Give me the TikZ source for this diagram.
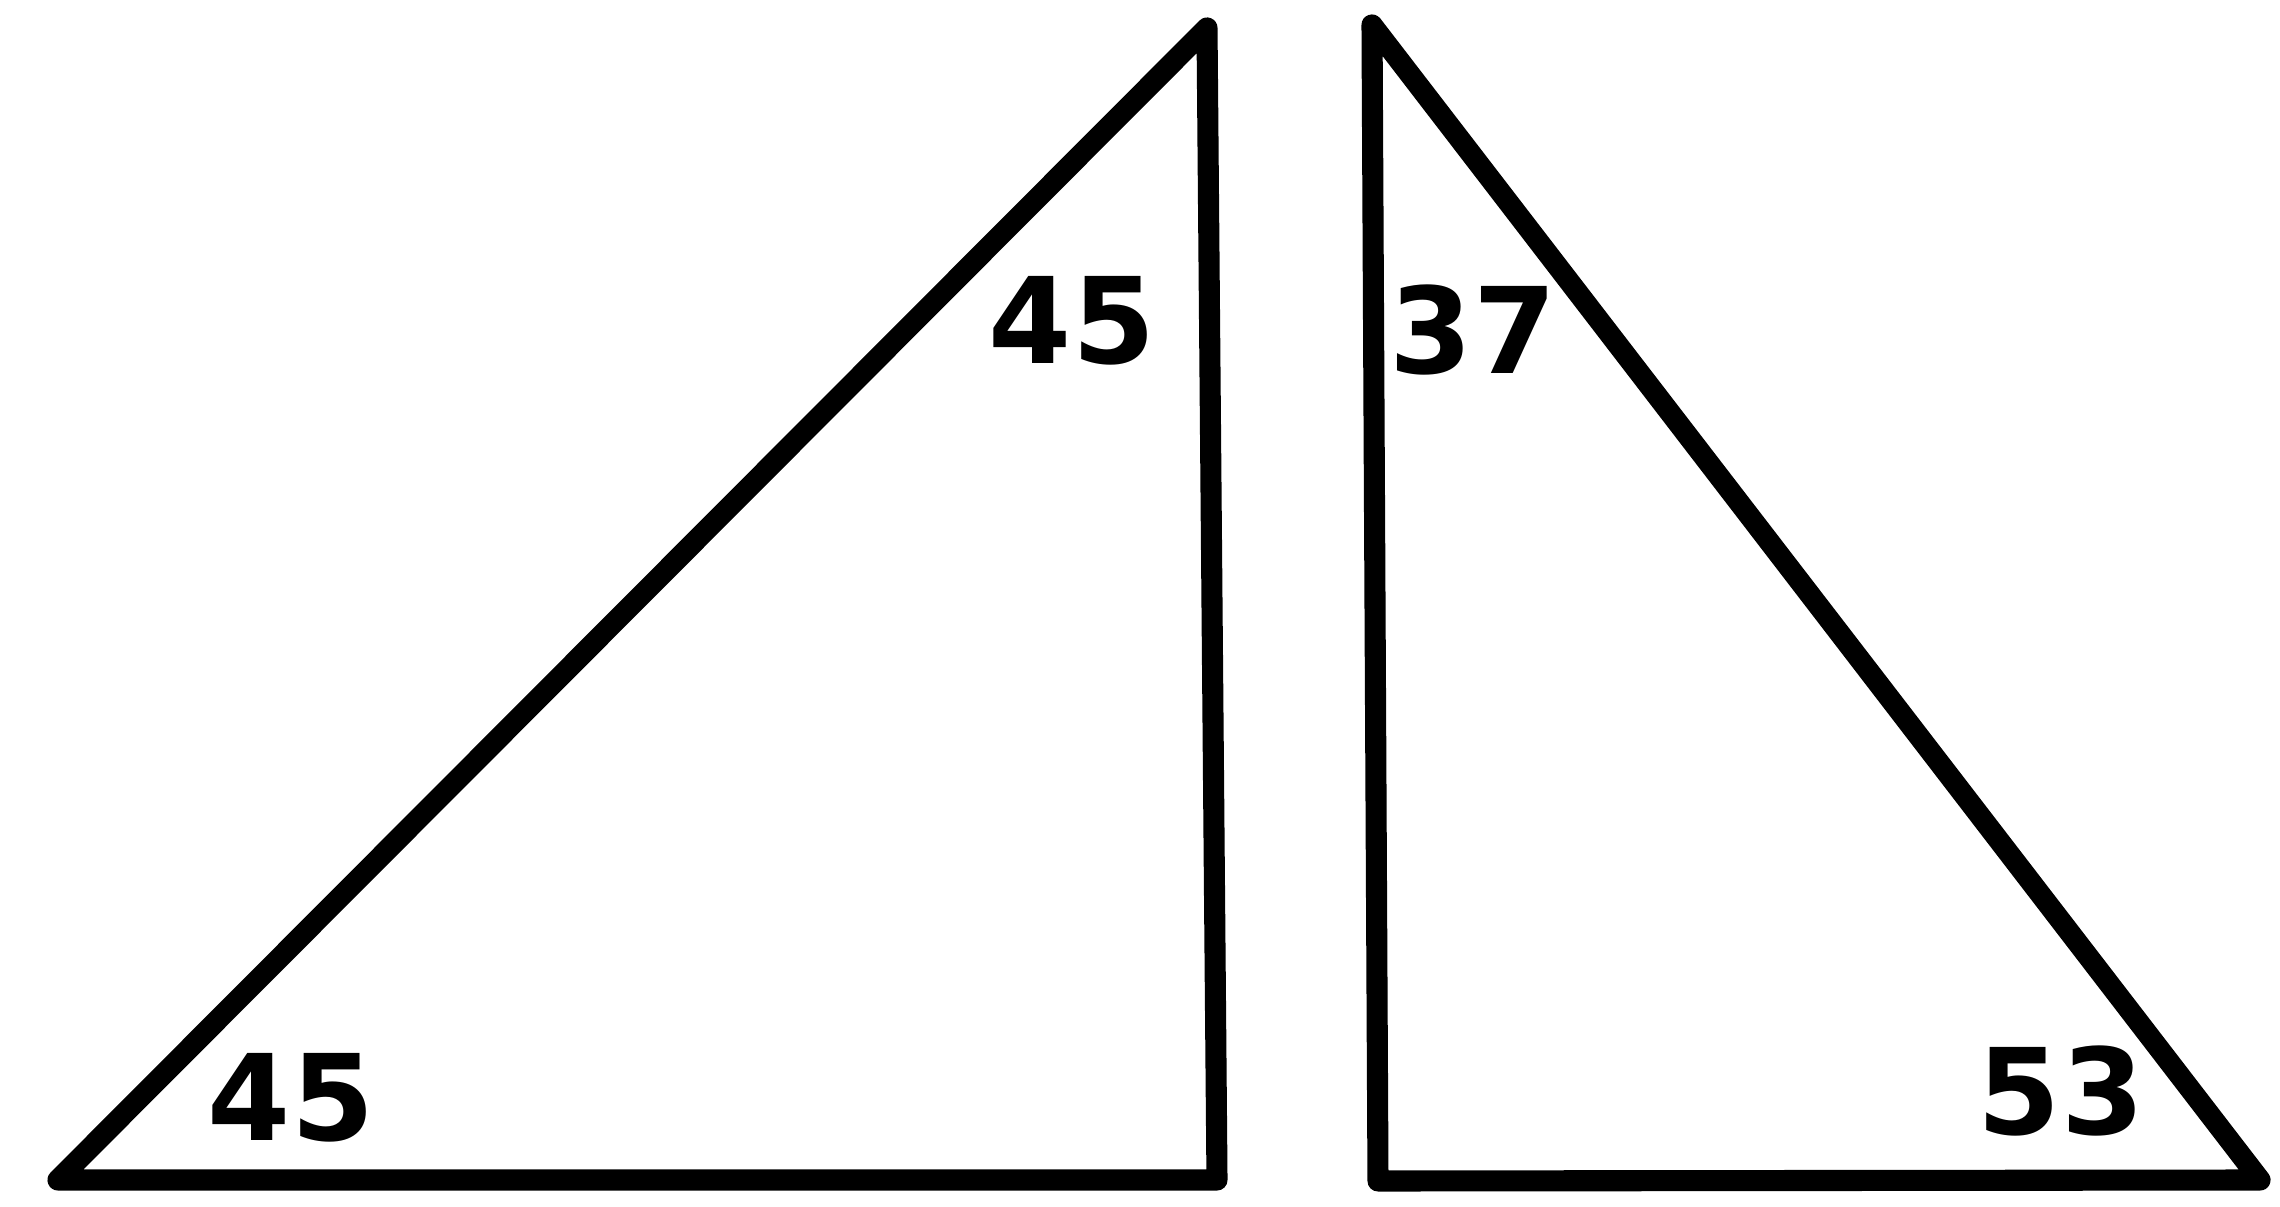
\documentclass[tikz,border=0pt]{standalone}
\usepackage{fontspec}
\setmainfont{DejaVu Sans}
\usepackage{tikz}
\usetikzlibrary{positioning, calc}

\begin{document}
\begin{tikzpicture}[
    edge/.style={draw=black, line width=6pt, line join=round, line cap=round},
    angle/.style={inner sep=0pt, font=\fontsize{34}{34}\selectfont\bfseries}
]
\useasboundingbox (0,0) rectangle (22.8,12.06);

% Left triangle (45-45)
\coordinate (lA) at (0.58,0.26);
\coordinate (lB) at (12.07,11.78);
\coordinate (lC) at (12.17,0.26);

% Right triangle (37-53)
\coordinate (rA) at (13.72,11.81);
\coordinate (rB) at (13.78,0.25);
\coordinate (rC) at (22.6,0.26);

\draw[edge] (lA) -- (lB) -- (lC) -- cycle;
\draw[edge] (rA) -- (rB) -- (rC) -- cycle;

% Angle labels
\node[angle] (lTop) at (10.72,8.85) {45};
\node[angle] (lBot) at (2.91,1.08) {45};
\node[angle] (rTop) at (14.73,8.76) {37};
\node[angle] (rBot) at (20.61,1.15) {53};

\end{tikzpicture}
\end{document}
